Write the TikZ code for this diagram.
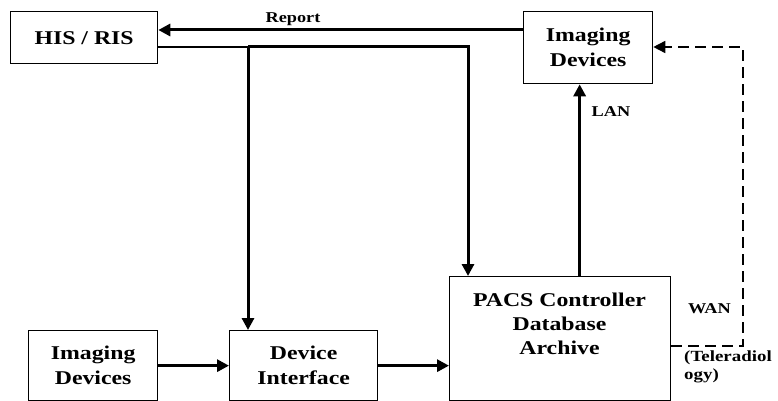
\documentclass[tikz,border=0pt]{standalone}
\usepackage{fontspec}
\setmainfont{Liberation Serif}[FakeStretch=1.22]
\usetikzlibrary{arrows.meta}
\begin{document}
\begin{tikzpicture}[x=1pt,y=-1pt,
  box/.style={draw,line width=1.3pt,rectangle,inner sep=0pt,anchor=north west,
    align=center,font=\fontsize{19.5}{25}\selectfont\bfseries},
  lbl/.style={inner sep=0pt,font=\fontsize{15}{14}\selectfont\bfseries},
  link/.style={line width=3pt,-{Triangle[length=12pt,width=12pt]}},
  plain/.style={line width=2.2pt},
  wan/.style={line width=1.6pt,dash pattern=on 11pt off 6pt,-{Triangle[length=12pt,width=12pt]}}]
\useasboundingbox (0,0) rectangle (778,401);
\clip (0,0) rectangle (778,401);

% boxes
\node[box,minimum width=147pt,minimum height=52pt] (his) at (10,11) {HIS / RIS};
\node[box,minimum width=129pt,minimum height=72pt] (img) at (523,11) {Imaging\\Devices};
\node[box,minimum width=129pt,minimum height=70pt] (imgb) at (28,330) {Imaging\\Devices};
\node[box,minimum width=148pt,minimum height=70pt] (dev) at (229,330) {Device\\Interface};
\node[box,minimum width=221pt,minimum height=124pt] (pacs) at (449,276) {};
\node[align=center,inner sep=0pt,font=\fontsize{19.5}{24}\selectfont\bfseries]
  (pacstext) at (559.5,324) {PACS Controller\\Database\\Archive};

% labels
\node[lbl,anchor=base] (report) at (293,23) {Report};
\node[lbl,anchor=base] (lan) at (611,117) {LAN};
\node[lbl,anchor=base] (wanl) at (709.5,313) {WAN};
\node[lbl,anchor=base west,align=left,font=\fontsize{15.5}{18}\selectfont\bfseries]
  (tele) at (684,379) {(Teleradiol\\ogy)};

% connectors
\coordinate (j1) at (248,47);
\draw[link] (img.west |- 0,30) -- (his.east |- 0,30);
\draw[plain] (his.east |- 0,47) -- (j1);
\draw[link] (j1) -| ([xshift=19pt]pacs.north west);
\draw[link] (j1) -- (j1 |- dev.north);
\draw[link] ([xshift=-8.5pt]img.south |- pacs.north) -- ([xshift=-8.5pt]img.south);
\draw[link] (imgb.east) -- (dev.west);
\draw[link] (dev.east) -- (pacs.west |- dev.east);
\draw[wan] (pacs.east |- 0,346) -| (743,47) -- (img.east |- 0,47);
\end{tikzpicture}
\end{document}
